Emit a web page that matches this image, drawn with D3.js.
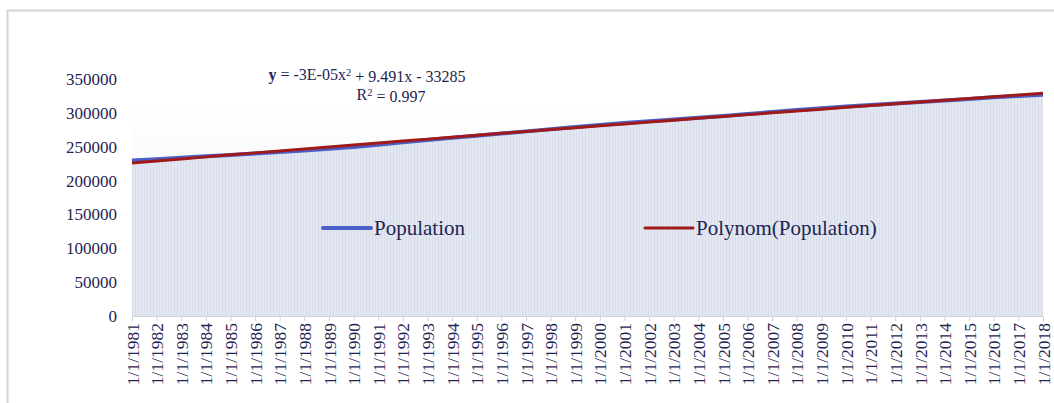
<!DOCTYPE html>
<head>
<meta charset="utf-8">
<style>
body { margin: 0; background: #fff; }
text { font-family: "Liberation Serif", "Times New Roman", serif; fill: #1f2452; }
.axis path, .axis line { stroke: #cfd2d8; }
</style>
<title>Population</title>
</head>
<body>
<script src="https://cdn.jsdelivr.net/npm/d3@7"></script>
<script>

var width = 1054, height = 403;

// US population (thousands), 1 Jan of each year
var years = d3.range(1981, 2019);
var population = [229466, 231664, 233792, 235825, 237924, 240133, 242289, 244499, 246819, 249623,
                  252981, 256514, 259919, 263126, 266278, 269394, 272657, 275854, 279040, 282162,
                  284969, 287625, 290108, 292805, 295517, 298380, 301231, 304094, 306772, 309322,
                  311557, 313831, 315994, 318301, 320635, 322941, 324986, 326900];
var yTicks = [0, 50000, 100000, 150000, 200000, 250000, 300000, 350000];
var legendNames = ["Population", "Polynom(Population)"];

var data = years.map(function(y, i) { return { date: new Date(y, 0, 1), value: population[i] }; });

// quadratic trend line (least squares), like Excel's polynomial trendline
function polyFit(xs, ys) {
  var s = [0, 0, 0, 0, 0], t = [0, 0, 0];
  xs.forEach(function(x, i) {
    var p = 1;
    for (var k = 0; k < 5; k++) { s[k] += p; if (k < 3) t[k] += p * ys[i]; p *= x; }
  });
  var A = [[s[0], s[1], s[2], t[0]], [s[1], s[2], s[3], t[1]], [s[2], s[3], s[4], t[2]]];
  for (var c = 0; c < 3; c++) {
    for (var r = c + 1; r < 3; r++) {
      var f = A[r][c] / A[c][c];
      for (var k = c; k < 4; k++) A[r][k] -= f * A[c][k];
    }
  }
  var b = [0, 0, 0];
  for (var r = 2; r >= 0; r--) {
    var v = A[r][3];
    for (var k = r + 1; k < 3; k++) v -= A[r][k] * b[k];
    b[r] = v / A[r][r];
  }
  return b;
}
var xi = data.map(function(d, i) { return i; });
var coef = polyFit(xi, population);
var trend = data.map(function(d, i) { return { date: d.date, value: coef[0] + coef[1] * i + coef[2] * i * i }; });

var svg = d3.select("body").append("svg")
    .attr("width", width)
    .attr("height", height);

var defs = svg.append("defs");
var grad = defs.append("linearGradient").attr("id", "bg").attr("x1", 0).attr("y1", 0).attr("x2", 0).attr("y2", 1);
grad.append("stop").attr("offset", "0%").attr("stop-color", "#ffffff");
grad.append("stop").attr("offset", "100%").attr("stop-color", "#eef0f5");

var pat = defs.append("pattern")
    .attr("id", "stripes")
    .attr("patternUnits", "userSpaceOnUse")
    .attr("width", 3).attr("height", 10);
pat.append("rect").attr("width", 3).attr("height", 10).attr("fill", "#e3e7f1");
pat.append("rect").attr("width", 1).attr("height", 10).attr("fill", "#d8ddeb");

// outer frame
svg.append("rect")
    .attr("x", 7.5).attr("y", 10.5)
    .attr("width", 1100).attr("height", 500)
    .attr("fill", "none")
    .attr("stroke", "#d4d4d4")
    .attr("stroke-width", 2);

var x = d3.scaleTime()
    .domain([data[0].date, data[data.length - 1].date])
    .range([132, 1043]);

var y = d3.scaleLinear()
    .domain([0, 350000])
    .range([316, 79]);

svg.append("rect")
    .attr("x", 132).attr("y", 103)
    .attr("width", 911).attr("height", 213)
    .attr("fill", "url(#bg)");

svg.append("path")
    .datum(data)
    .attr("fill", "url(#stripes)")
    .attr("d", d3.area()
      .x(function(d) { return x(d.date); })
      .y0(y(0))
      .y1(function(d) { return y(d.value); }));

// y axis labels
svg.append("g")
    .selectAll("text")
    .data(yTicks)
  .enter().append("text")
    .attr("x", 117)
    .attr("y", function(d) { return y(d); })
    .attr("dy", "0.35em")
    .attr("text-anchor", "end")
    .style("font-size", "17px")
    .text(function(d) { return d; });

// x axis
var xAxis = svg.append("g")
    .attr("class", "axis")
    .attr("transform", "translate(0," + y(0) + ")")
    .call(d3.axisBottom(x)
      .tickValues(data.map(function(d) { return d.date; }))
      .tickSize(5)
      .tickFormat(function(d) { return "1/1/" + d.getFullYear(); }));

xAxis.select(".domain").attr("stroke", "#cfd2d8");
xAxis.selectAll("text")
    .attr("transform", "rotate(-90)")
    .attr("x", -7)
    .attr("y", 0)
    .attr("dy", "0.35em")
    .attr("text-anchor", "end")
    .style("font-size", "17.5px")
    .style("font-family", "'Liberation Serif', serif")
    .attr("fill", "#1f2452");

var line = d3.line()
    .x(function(d) { return x(d.date); })
    .y(function(d) { return y(d.value); });

svg.append("path")
    .datum(data)
    .attr("fill", "none")
    .attr("stroke", "#4b5fc6")
    .attr("stroke-width", 4)
    .attr("d", line);

svg.append("path")
    .datum(trend)
    .attr("fill", "none")
    .attr("stroke", "#a11a1a")
    .attr("stroke-width", 3)
    .attr("d", line);

// equation
var eq = svg.append("text")
    .attr("x", 367).attr("y", 80)
    .attr("text-anchor", "middle")
    .style("font-size", "16px");
eq.append("tspan").style("font-weight", "bold").text("y");
eq.append("tspan").text(" = -3E-05x");
eq.append("tspan").attr("dy", "-0.4em").style("font-size", "10.5px").text("2");
eq.append("tspan").attr("dy", "0.4em").text(" + 9.491x - 33285");

var r2 = svg.append("text")
    .attr("x", 391).attr("y", 100)
    .attr("text-anchor", "middle")
    .style("font-size", "16px");
r2.append("tspan").text("R");
r2.append("tspan").attr("dy", "-0.4em").style("font-size", "10.5px").text("2");
r2.append("tspan").attr("dy", "0.4em").text(" = 0.997");

// legend
var legColors = ["#4b5fc6", "#a11a1a"];
var legX = [323, 645];
var leg = svg.selectAll(".leg")
    .data(legendNames)
  .enter().append("g")
    .attr("class", "leg")
    .attr("transform", function(d, i) { return "translate(" + legX[i] + ",228)"; });

leg.append("line")
    .attr("x1", 0).attr("x2", 48)
    .attr("stroke", function(d, i) { return legColors[i]; })
    .attr("stroke-width", function(d, i) { return i ? 3 : 4; })
    .attr("stroke-linecap", "round");

leg.append("text")
    .attr("x", 51)
    .attr("dy", "0.35em")
    .style("font-size", "21px")
    .text(function(d) { return d; });

</script>
</body>
